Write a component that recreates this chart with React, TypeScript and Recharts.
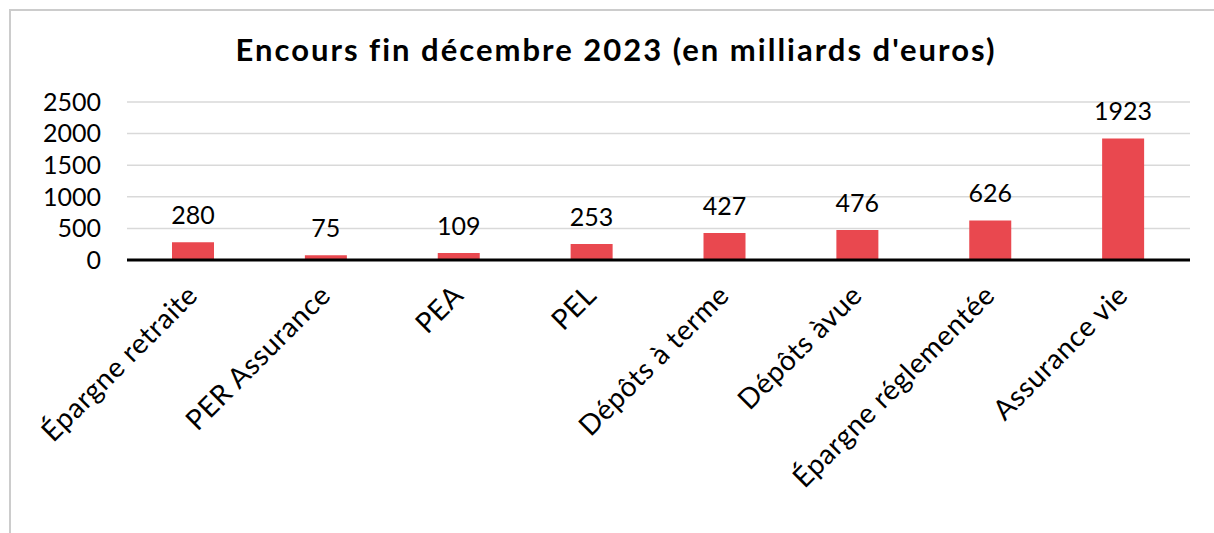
import { Bar, BarChart, CartesianGrid, LabelList, XAxis, YAxis } from "recharts";

const CATEGORIES = [
  "Épargne retraite",
  "PER Assurance",
  "PEA",
  "PEL",
  "Dépôts à terme",
  "Dépôts àvue",
  "Épargne réglementée",
  "Assurance vie",
];
const ENCOURS = [280, 75, 109, 253, 427, 476, 626, 1923];
const Y_TICKS = [0, 500, 1000, 1500, 2000, 2500];

const FONT = "Lato, 'DejaVu Sans', sans-serif";

function XTick({ x, y, payload }: { x?: number; y?: number; payload?: { value: string } }) {
  if (x == null || y == null || !payload) return null;
  const ax = x + 6;
  const ay = y + 37;
  return (
    <text
      x={ax}
      y={ay}
      textAnchor="end"
      fill="#000"
      fontSize={28}
      fontFamily={FONT}
      letterSpacing={0.6}
      transform={`rotate(-45, ${ax}, ${ay})`}
    >
      {payload.value}
    </text>
  );
}

export default function App() {
  const data = CATEGORIES.map((name, i) => ({ name, value: ENCOURS[i] }));
  return (
    <div
      style={{
        position: "fixed",
        left: 0,
        top: 0,
        width: 1214,
        height: 533,
        overflow: "hidden",
        background: "#fff",
        fontFamily: FONT,
      }}
    >
      <div
        style={{
          position: "absolute",
          left: 9,
          top: 9,
          width: 1240,
          height: 600,
          borderLeft: "2px solid #cccccc",
          borderTop: "2px solid #cccccc",
        }}
      />
      <div
        style={{
          position: "absolute",
          left: 0,
          top: 34,
          width: 1232,
          textAlign: "center",
          fontSize: 31,
          lineHeight: "30px",
          fontWeight: 700,
          letterSpacing: 2,
          color: "#000",
        }}
      >
        Encours fin décembre 2023 (en milliards d'euros)
      </div>
      <div style={{ position: "absolute", left: 0, top: 0 }}>
        <BarChart
          width={1214}
          height={533}
          data={data}
          margin={{ top: 102, right: 24, left: 0, bottom: 0 }}
          barCategoryGap={0}
        >
          <CartesianGrid stroke="#d9d9d9" strokeWidth={1.5} vertical={false} />
          <XAxis
            dataKey="name"
            height={273}
            interval={0}
            tickLine={false}
            tickSize={0}
            tickMargin={0}
            axisLine={{ stroke: "#000", strokeWidth: 3 }}
            tick={<XTick />}
          />
          <YAxis
            width={127}
            domain={[0, 2500]}
            ticks={Y_TICKS}
            interval={0}
            axisLine={false}
            tickLine={false}
            tickSize={0}
            tickMargin={26}
            tick={{ fill: "#000", fontSize: 25, fontFamily: FONT }}
          />
          <Bar dataKey="value" fill="#E9484F" barSize={42} isAnimationActive={false}>
            <LabelList
              dataKey="value"
              position="top"
              offset={18}
              fill="#000"
              fontSize={25}
              fontFamily={FONT}
            />
          </Bar>
        </BarChart>
      </div>
    </div>
  );
}
